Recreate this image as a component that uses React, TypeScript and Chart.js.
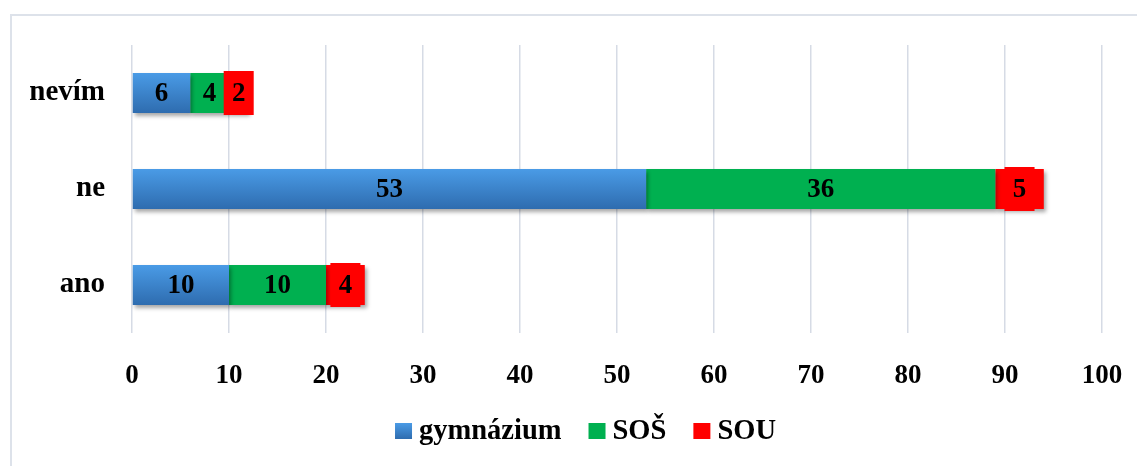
import React, { useEffect, useRef } from "react";
import { Chart, registerables } from "chart.js";

Chart.register(...registerables);

const categories = ["nevím", "ne", "ano"];
const seriesNames = ["gymnázium", "SOŠ", "SOU"];
const gymnazium = [6, 53, 10];
const sos = [4, 36, 10];
const sou = [2, 5, 4];
const xTicks = [0, 10, 20, 30, 40, 50, 60, 70, 80, 90, 100];

const FONT = "'Liberation Serif', 'Times New Roman', serif";
const BLUE_TOP = "#4a9be6";
const BLUE_BOT = "#2e6caf";
const GREEN = "#00b050";
const RED = "#ff0000";

export default function App() {
  const ref = useRef<HTMLCanvasElement | null>(null);

  useEffect(() => {
    const canvas = ref.current;
    if (!canvas) return;

    const blueGradient = (c: any) => {
      const chart = c.chart;
      const y = chart.scales && chart.scales.y;
      if (!y || !chart.chartArea) return BLUE_TOP;
      const cy = y.getPixelForValue(c.dataIndex);
      const g = chart.ctx.createLinearGradient(0, cy - 20, 0, cy + 20);
      g.addColorStop(0, BLUE_TOP);
      g.addColorStop(1, BLUE_BOT);
      return g;
    };

    const framePlugin = {
      id: "frame",
      beforeDraw(chart: any) {
        const ctx = chart.ctx;
        ctx.save();
        ctx.fillStyle = "#ffffff";
        ctx.fillRect(0, 0, chart.width, chart.height);
        ctx.strokeStyle = "#dde2ea";
        ctx.lineWidth = 2;
        ctx.strokeRect(11, 15, chart.width + 20, chart.height + 20);
        ctx.restore();
      },
    };

    const barFx = {
      id: "barFx",
      beforeDatasetsDraw(chart: any) {
        const ctx = chart.ctx;
        ctx.save();
        ctx.shadowColor = "rgba(0,0,0,0.35)";
        ctx.shadowBlur = 4;
        ctx.shadowOffsetX = 2;
        ctx.shadowOffsetY = 3;
      },
      afterDatasetsDraw(chart: any) {
        const ctx = chart.ctx;
        ctx.restore();
        ctx.save();
        ctx.font = `bold 27px ${FONT}`;
        ctx.textAlign = "center";
        ctx.textBaseline = "middle";
        chart.data.datasets.forEach((ds: any, di: number) => {
          const meta = chart.getDatasetMeta(di);
          meta.data.forEach((el: any, i: number) => {
            const cx = (el.x + el.base) / 2;
            const cy = el.y;
            if (di === 2) {
              ctx.fillStyle = RED;
              ctx.fillRect(cx - 15, cy - 22, 30, 44);
            }
            ctx.fillStyle = "#000000";
            ctx.fillText(String(ds.data[i]), cx, cy + 1);
          });
        });
        ctx.restore();
      },
    };

    const legendPlugin = {
      id: "customLegend",
      afterDraw(chart: any) {
        const ctx = chart.ctx;
        ctx.save();
        ctx.font = `bold 28.5px ${FONT}`;
        const box = 17;
        const gapText = 7;
        const gapItem = 27;
        const items = chart.data.datasets.map((ds: any) => ({
          label: ds.label,
          w: ctx.measureText(ds.label).width,
        }));
        const total =
          items.reduce((s: number, it: any) => s + box + gapText + it.w, 0) +
          gapItem * (items.length - 1);
        let x = 585.5 - total / 2;
        const baseline = 439;
        items.forEach((it: any, i: number) => {
          if (i === 0) {
            const g = ctx.createLinearGradient(0, baseline - 16, 0, baseline);
            g.addColorStop(0, BLUE_TOP);
            g.addColorStop(1, BLUE_BOT);
            ctx.fillStyle = g;
          } else {
            ctx.fillStyle = i === 1 ? GREEN : RED;
          }
          ctx.fillRect(x, baseline - 16, box, 16);
          x += box + gapText;
          ctx.fillStyle = "#000000";
          ctx.textBaseline = "alphabetic";
          ctx.textAlign = "left";
          ctx.fillText(it.label, x, baseline);
          x += it.w + gapItem;
        });
        ctx.restore();
      },
    };

    const chart = new Chart(canvas, {
      type: "bar",
      data: {
        labels: categories,
        datasets: [
          { label: seriesNames[0], data: gymnazium, backgroundColor: blueGradient },
          { label: seriesNames[1], data: sos, backgroundColor: GREEN },
          { label: seriesNames[2], data: sou, backgroundColor: RED },
        ],
      },
      options: {
        indexAxis: "y",
        responsive: false,
        animation: false,
        layout: { padding: { top: 45, right: 35, left: 0, bottom: 0 } },
        datasets: {
          bar: { categoryPercentage: 1, barPercentage: 0.415, borderWidth: 0 },
        },
        plugins: {
          legend: { display: false },
          tooltip: { enabled: false },
        },
        scales: {
          x: {
            stacked: true,
            min: 0,
            max: 100,
            afterBuildTicks: (scale: any) => {
              scale.ticks = xTicks.map((v) => ({ value: v }));
            },
            afterFit: (scale: any) => {
              scale.height = 133;
              scale.paddingLeft = 0;
              scale.paddingRight = 0;
            },
            grid: {
              color: "#d6dbe5",
              lineWidth: 1.5,
              drawTicks: false,
            },
            border: { display: false },
            ticks: {
              padding: 27,
              color: "#000000",
              font: { family: FONT, size: 27, weight: "bold" },
              maxRotation: 0,
            },
          },
          y: {
            stacked: true,
            afterFit: (scale: any) => {
              scale.width = 132;
              scale.paddingTop = 0;
              scale.paddingBottom = 0;
            },
            grid: { display: false, drawTicks: false },
            border: { display: false },
            ticks: {
              padding: 27,
              color: "#000000",
              font: { family: FONT, size: 29, weight: "bold" },
            },
          },
        },
      },
      plugins: [framePlugin, barFx, legendPlugin],
    } as any);

    return () => chart.destroy();
  }, []);

  return (
    <div
      style={{
        position: "fixed",
        left: 0,
        top: 0,
        width: 1137,
        height: 466,
        background: "#fff",
      }}
    >
      <canvas ref={ref} width={1137} height={466} style={{ display: "block" }} />
    </div>
  );
}
